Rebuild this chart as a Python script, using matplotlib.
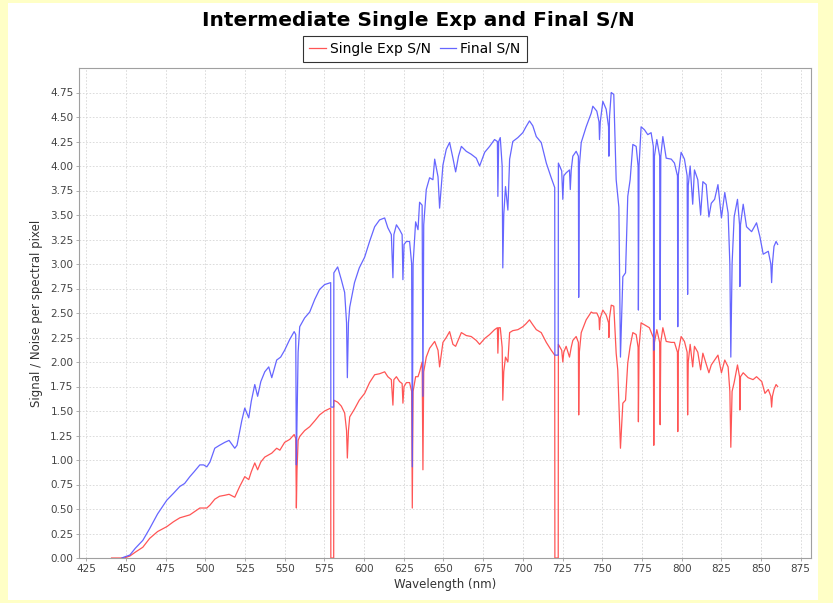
import matplotlib
matplotlib.use('Agg')
import matplotlib.pyplot as plt
from matplotlib.patches import Rectangle

plt.rcParams['font.family'] = ['DejaVu Sans']

# Single exposure S/N (wavelength in nm, value)
single_wl = [441, 449, 452.5, 456, 460.7, 465, 470, 475.8, 480, 484, 490.3, 493, 496.6, 501, 503, 506,
             509, 512.3, 515, 518.6, 521.7, 524.9, 527.4, 529, 531.2, 533, 535, 537.5, 541.9, 545, 547,
             550, 553.2, 556, 557.0, 557.4, 557.8, 558.5, 559.5, 562.6, 565.8, 569, 572, 575.2, 579.0,
             579.1, 580.9, 581.0, 583.4, 585.7, 587.8, 589.0, 589.5, 590.2, 591, 594, 597, 600.4, 603.5,
             606.7, 609.8, 613, 615, 617.2, 618.2, 618.8, 620.4, 622.4, 624.0, 624.5, 625.2, 626.7, 628.7,
             630.0, 630.4, 630.9, 632.5, 634, 635, 636.6, 637.1, 637.6, 639.2, 641.3, 644.5, 646.6, 647.6,
             649.7, 651.8, 653.9, 656, 657.7, 661.3, 664.4, 667.5, 670.7, 672.8, 676, 679.1, 682.2, 684.0,
             684.3, 684.8, 685.8, 687.0, 687.4, 688.0, 689.1, 690.6, 691.7, 693.7, 696.9, 700, 702, 704.2,
             706.3, 708.5, 711.6, 714.8, 717.9, 720.1, 720.2, 722.3, 722.4, 724.5, 725.2, 725.8, 727.3,
             729.4, 730.5, 731.5, 733.6, 735.0, 735.2, 735.6, 736.8, 739.9, 743.1, 744.1, 746.6, 748.0,
             748.3, 748.8, 750.4, 752.5, 754.0, 754.2, 754.6, 755.7, 757.3, 758.8, 759.8, 761.5, 763,
             764.7, 766.1, 767.6, 769.3, 771.4, 772.6, 772.8, 773.2, 774.5, 776.6, 779.7, 782.2, 782.5,
             782.9, 784.4, 786.2, 786.5, 786.9, 788.2, 790.3, 793.5, 795.5, 797.4, 797.6, 797.9, 799.7,
             801.8, 803.5, 803.8, 804.2, 805.4, 807, 808.1, 810.2, 812, 813.4, 817.2, 818.7, 822.9, 825.1,
             827.2, 829.3, 830.4, 831, 831.8, 833.1, 835.2, 836.5, 836.7, 837.1, 838.8, 841.9, 845, 847.2,
             850.5, 852.5, 854.6, 856.2, 856.7, 857.2, 858.2, 859.5, 860.5]
single_sn = [0.00, 0.00, 0.02, 0.06, 0.11, 0.20, 0.27, 0.32, 0.37, 0.41, 0.44, 0.47, 0.51, 0.51, 0.54, 0.60,
             0.63, 0.64, 0.65, 0.62, 0.73, 0.83, 0.80, 0.88, 0.97, 0.90, 0.98, 1.03, 1.07, 1.12, 1.10,
             1.18, 1.21, 1.26, 1.22, 0.51, 0.90, 1.20, 1.24, 1.30, 1.34, 1.40, 1.46, 1.50, 1.53,
             0.00, 0.00, 1.61, 1.59, 1.55, 1.48, 1.30, 1.02, 1.30, 1.44, 1.52, 1.61, 1.68, 1.79,
             1.87, 1.88, 1.90, 1.85, 1.82, 1.56, 1.82, 1.85, 1.80, 1.78, 1.58, 1.75, 1.79, 1.79,
             1.70, 0.51, 1.70, 1.85, 1.85, 1.90, 2.00, 0.90, 1.90, 2.05, 2.14, 2.21, 2.12, 1.95,
             2.20, 2.25, 2.31, 2.18, 2.16, 2.30, 2.27, 2.26, 2.22, 2.18, 2.24, 2.28, 2.33, 2.35,
             2.09, 2.35, 2.35, 2.15, 1.61, 1.90, 2.05, 2.00, 2.30, 2.32, 2.33, 2.36, 2.39, 2.43,
             2.38, 2.33, 2.30, 2.20, 2.12, 2.07, 0.00, 0.00, 2.18, 2.12, 2.00, 2.10, 2.16,
             2.05, 2.15, 2.22, 2.26, 2.20, 1.46, 2.10, 2.30, 2.43, 2.51, 2.50, 2.50, 2.45,
             2.33, 2.45, 2.53, 2.48, 2.40, 2.25, 2.45, 2.58, 2.57, 2.09, 1.92, 1.12, 1.58,
             1.61, 1.99, 2.16, 2.30, 2.28, 2.15, 1.39, 2.15, 2.40, 2.38, 2.35, 2.25, 1.15,
             2.20, 2.33, 2.20, 1.36, 2.20, 2.35, 2.21, 2.20, 2.20, 2.10, 1.29, 2.10, 2.26,
             2.21, 2.10, 1.46, 2.00, 2.18, 1.95, 2.16, 2.10, 1.92, 2.09, 1.89, 1.97, 2.07, 1.89,
             2.02, 1.95, 1.70, 1.13, 1.70, 1.79, 1.97, 1.85, 1.51, 1.85, 1.89, 1.84, 1.82, 1.85,
             1.80, 1.68, 1.72, 1.65, 1.54, 1.65, 1.72, 1.77, 1.75]

# Final S/N (wavelength in nm, value)
final_wl = [447.5, 449, 452.5, 456, 460.7, 465, 470, 475.8, 480, 484, 487, 490.3, 493, 496.6, 499, 501,
            503, 506, 509, 512.3, 515, 518.6, 520, 521.7, 523, 524.9, 527.4, 529, 531.2, 533, 535, 537.5,
            540, 541.9, 545, 547.5, 550, 553.2, 556, 557.0, 557.4, 557.8, 558.5, 559.5, 562.6, 565.8, 569,
            572, 575.2, 579.0, 579.1, 580.9, 581.0, 583.4, 585.7, 587.8, 589.0, 589.5, 590.2, 591, 594,
            597, 600.4, 603.5, 606.7, 609.8, 613, 615, 617.2, 618.2, 618.8, 620.4, 622.4, 624.0, 624.5,
            625.2, 626.7, 628.7, 630.0, 630.4, 630.9, 632.5, 634, 635, 636.6, 637.1, 637.6, 639.2, 641.3,
            643.4, 644.5, 646.6, 647.6, 649.7, 651.8, 653.9, 656, 657.7, 659.5, 661.3, 664.4, 667.5, 670.7,
            672.8, 676, 679.1, 682.2, 684.0, 684.3, 684.8, 685.8, 687.0, 687.4, 688.0, 689.1, 690.6, 691.7,
            693.7, 696.9, 700, 702, 704.2, 706.3, 708.5, 711.6, 714.8, 717.9, 720.1, 720.2, 722.3, 722.4,
            724.5, 725.2, 725.8, 727.3, 729.4, 729.9, 730.5, 731.5, 733.6, 735.0, 735.2, 735.6, 736.8,
            739.9, 743.1, 744.1, 746.6, 748.0, 748.3, 748.8, 750.4, 752.5, 754.0, 754.2, 754.6, 755.7,
            757.3, 758.8, 760.5, 761.5, 763, 764.7, 766.1, 767.6, 769.3, 771.4, 772.6, 772.8, 773.2, 774.5,
            776.6, 778.7, 780.8, 782.2, 782.5, 782.9, 784.4, 786.2, 786.5, 786.9, 788.2, 790.3, 793.5,
            795.5, 797.4, 797.6, 797.9, 799.7, 801.8, 803.5, 803.8, 804.2, 805.4, 807, 808.1, 810.2, 812,
            813.4, 815.5, 817.2, 818.7, 820.8, 822.9, 825.1, 827.2, 829.3, 830.4, 831, 831.8, 833.1, 835.2,
            836.5, 836.7, 837.1, 838.8, 840.9, 844.1, 847.2, 849.3, 851.4, 854.6, 856.2, 856.7, 857.2,
            858.2, 859.5, 860.5]
final_sn = [0.00, 0.01, 0.03, 0.10, 0.18, 0.30, 0.45, 0.59, 0.66, 0.73, 0.76, 0.83, 0.88, 0.95, 0.95, 0.93,
            0.98, 1.12, 1.15, 1.18, 1.20, 1.12, 1.15, 1.29, 1.40, 1.53, 1.43, 1.60, 1.77, 1.65, 1.80, 1.90,
            1.95, 1.84, 2.02, 2.05, 2.12, 2.23, 2.31, 2.28, 0.95, 1.40, 2.10, 2.36, 2.45, 2.51, 2.64,
            2.74, 2.79, 2.81, 1.54, 1.54, 2.91, 2.97, 2.84, 2.71, 2.40, 1.84, 2.40, 2.56, 2.81,
            2.96, 3.07, 3.23, 3.38, 3.45, 3.47, 3.37, 3.30, 2.86, 3.30, 3.40, 3.35, 3.30, 2.84,
            3.20, 3.23, 3.23, 3.00, 0.93, 3.00, 3.43, 3.35, 3.63, 3.60, 1.65, 3.40, 3.76, 3.88,
            3.86, 4.07, 3.89, 3.57, 4.01, 4.17, 4.24, 4.08, 3.94, 4.10, 4.20, 4.15, 4.12, 4.08,
            4.00, 4.14, 4.20, 4.27, 4.25, 3.69, 4.25, 4.29, 4.00, 2.96, 3.50, 3.79, 3.55, 4.07,
            4.25, 4.29, 4.34, 4.40, 4.46, 4.41, 4.30, 4.24, 4.03, 3.88, 3.78, 2.07, 2.07, 4.03,
            3.95, 3.66, 3.90, 3.93, 3.96, 3.76, 3.96, 4.10, 4.15, 4.10, 2.66, 4.00, 4.24,
            4.40, 4.54, 4.61, 4.56, 4.45, 4.27, 4.45, 4.66, 4.58, 4.40, 4.10, 4.50, 4.75,
            4.73, 3.86, 3.58, 2.05, 2.87, 2.91, 3.69, 3.86, 4.22, 4.20, 4.00, 2.53, 4.00, 4.40,
            4.37, 4.32, 4.34, 4.20, 2.12, 4.10, 4.27, 4.10, 2.43, 4.10, 4.30, 4.08, 4.07,
            4.03, 3.90, 2.36, 3.90, 4.14, 4.07, 3.90, 2.69, 3.80, 4.00, 3.61, 3.96, 3.86, 3.50,
            3.84, 3.81, 3.48, 3.62, 3.66, 3.81, 3.47, 3.73, 3.52, 3.00, 2.05, 3.00, 3.48, 3.66,
            3.40, 2.77, 3.40, 3.61, 3.38, 3.33, 3.42, 3.28, 3.10, 3.13, 3.00, 2.81, 3.00,
            3.18, 3.23, 3.20]

x_ticks = list(range(425, 876, 25))
y_ticks = [i * 0.25 for i in range(20)]

W, H = 833, 603
fig = plt.figure(figsize=(W / 100, H / 100), dpi=100, facecolor='#FFFFC6')
fig.patches.append(Rectangle((8 / W, 3 / H), (818 - 8) / W, (600 - 3) / H,
                             transform=fig.transFigure, facecolor='white', edgecolor='none', zorder=-5))

ax = fig.add_axes([79 / W, (H - 558) / H, (811 - 79) / W, (558 - 68) / H])
ax.set_facecolor('white')

ax.plot(single_wl, single_sn, color='#FF5555', lw=0.9, label='Single Exp S/N')
ax.plot(final_wl, final_sn, color='#5555FF', lw=0.9, alpha=0.9, label='Final S/N')

ax.set_xlim(420.5, 881.5)
ax.set_ylim(0, 5.0)
ax.set_xticks(x_ticks)
ax.set_yticks(y_ticks)
ax.set_xticklabels([str(t) for t in x_ticks])
ax.set_yticklabels(['%.2f' % t for t in y_ticks])

ax.grid(True, color='#D6D6D6', linestyle=(0, (2, 2)), linewidth=0.6)
ax.set_axisbelow(True)
for s in ax.spines.values():
    s.set_color('#A0A0A0')
    s.set_linewidth(0.8)
ax.tick_params(direction='out', length=2, width=0.6, color='#A0A0A0',
               labelsize=7.5, labelcolor='#444444', pad=2)

ax.set_xlabel('Wavelength (nm)', fontsize=8.5, color='#333333', labelpad=3)
ax.set_ylabel('Signal / Noise per spectral pixel', fontsize=8.5, color='#333333', labelpad=5)

fig.text(418 / W, 1 - 20 / H, 'Intermediate Single Exp and Final S/N',
         ha='center', va='center', fontsize=14.5, fontweight='bold', color='black')

leg = fig.legend(loc='center', bbox_to_anchor=(415 / W, 1 - 49 / H), ncol=2, fontsize=10,
                 frameon=True, fancybox=False, handlelength=1.2, handletextpad=0.3,
                 columnspacing=0.6, borderpad=0.45, edgecolor='black')
leg.get_frame().set_linewidth(0.8)

fig.savefig('out.png', dpi=100, facecolor=fig.get_facecolor())
